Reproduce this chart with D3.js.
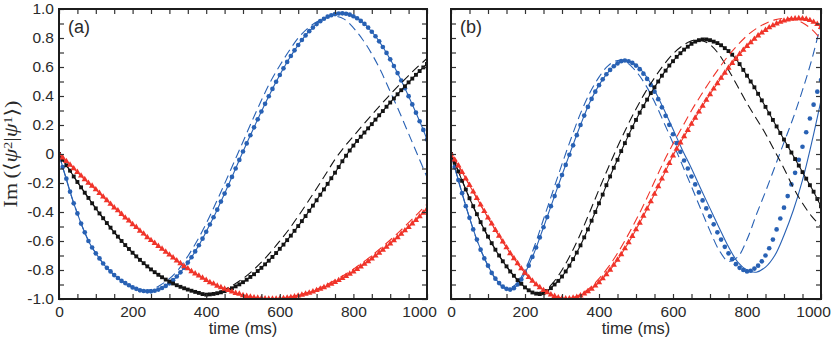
<!DOCTYPE html>
<html>
<head>
<meta charset="utf-8">
<script src="https://cdn.jsdelivr.net/npm/d3@7"></script>
<style>
  body { margin: 0; background: #fff; }
  text { font-family: "Liberation Sans", Arial, sans-serif; fill: #2a2a2a; }
</style>
</head>
<body>
<div id="chart"></div>
<script>

// sample times (ms): markers every 10 ms, lines every 25 ms
var t10 = [0,10,20,30,40,50,60,70,80,90,100,110,120,130,140,150,160,170,180,190,
  200,210,220,230,240,250,260,270,280,290,300,310,320,330,340,350,360,370,380,390,
  400,410,420,430,440,450,460,470,480,490,500,510,520,530,540,550,560,570,580,590,
  600,610,620,630,640,650,660,670,680,690,700,710,720,730,740,750,760,770,780,790,
  800,810,820,830,840,850,860,870,880,890,900,910,920,930,940,950,960,970,980,990,1000];
var t25 = [0,25,50,75,100,125,150,175,200,225,250,275,300,325,350,375,400,425,450,475,
  500,525,550,575,600,625,650,675,700,725,750,775,800,825,850,875,900,925,950,975,1000];

// ---- panel (a) ----
var blueA = [0,-0.09,-0.17,-0.26,-0.34,-0.41,-0.48,-0.54,-0.60,-0.645,
  -0.685,-0.72,-0.755,-0.785,-0.81,-0.835,-0.855,-0.875,-0.89,-0.905,
  -0.92,-0.93,-0.94,-0.945,-0.947,-0.947,-0.943,-0.935,-0.924,-0.91,
  -0.892,-0.87,-0.845,-0.816,-0.784,-0.749,-0.712,-0.672,-0.629,-0.584,
  -0.536,-0.486,-0.436,-0.384,-0.328,-0.273,-0.216,-0.158,-0.10,-0.041,
  0.017,0.073,0.129,0.184,0.239,0.293,0.346,0.398,0.449,0.498,
  0.545,0.591,0.635,0.676,0.715,0.752,0.786,0.818,0.847,0.872,
  0.896,0.916,0.933,0.947,0.957,0.965,0.969,0.97,0.967,0.961,
  0.95,0.936,0.918,0.897,0.872,0.843,0.812,0.777,0.738,0.697,
  0.653,0.607,0.558,0.507,0.454,0.399,0.342,0.285,0.226,0.166,0.10];
var blackA = [0,-0.04,-0.078,-0.115,-0.155,-0.193,-0.23,-0.267,-0.303,-0.34,
  -0.375,-0.41,-0.443,-0.476,-0.508,-0.54,-0.57,-0.60,-0.628,-0.655,
  -0.681,-0.706,-0.73,-0.753,-0.775,-0.796,-0.815,-0.833,-0.85,-0.866,
  -0.88,-0.893,-0.905,-0.916,-0.926,-0.935,-0.943,-0.951,-0.958,-0.966,
  -0.97,-0.968,-0.965,-0.96,-0.954,-0.946,-0.937,-0.926,-0.913,-0.899,
  -0.884,-0.867,-0.848,-0.829,-0.807,-0.785,-0.761,-0.736,-0.71,-0.683,
  -0.654,-0.625,-0.594,-0.563,-0.53,-0.497,-0.463,-0.428,-0.392,-0.356,
  -0.319,-0.281,-0.244,-0.206,-0.167,-0.129,-0.09,-0.05,-0.012,0.024,
  0.058,0.09,0.119,0.148,0.177,0.206,0.237,0.267,0.296,0.326,
  0.355,0.383,0.412,0.44,0.467,0.494,0.52,0.546,0.572,0.597,0.621];
var redA = [0,-0.025,-0.05,-0.075,-0.10,-0.125,-0.15,-0.175,-0.20,-0.22,
  -0.245,-0.27,-0.295,-0.32,-0.345,-0.37,-0.39,-0.415,-0.44,-0.46,
  -0.485,-0.505,-0.53,-0.55,-0.575,-0.595,-0.615,-0.635,-0.655,-0.675,
  -0.695,-0.715,-0.735,-0.755,-0.775,-0.79,-0.81,-0.825,-0.84,-0.855,
  -0.87,-0.885,-0.895,-0.91,-0.92,-0.93,-0.94,-0.95,-0.96,-0.965,
  -0.975,-0.98,-0.985,-0.99,-0.993,-0.996,-0.998,-0.999,-0.999,-0.999,
  -0.998,-0.995,-0.992,-0.988,-0.984,-0.978,-0.972,-0.965,-0.958,-0.949,
  -0.94,-0.93,-0.92,-0.909,-0.897,-0.884,-0.871,-0.857,-0.842,-0.827,
  -0.811,-0.794,-0.777,-0.759,-0.741,-0.722,-0.702,-0.682,-0.662,-0.641,
  -0.619,-0.597,-0.575,-0.552,-0.528,-0.505,-0.48,-0.456,-0.431,-0.406,-0.38];
var blueDashA = [0,-0.22,-0.41,-0.57,-0.685,-0.77,-0.835,-0.88,-0.92,-0.94,
  -0.935,-0.905,-0.86,-0.795,-0.705,-0.60,-0.48,-0.345,-0.205,-0.06,
  0.085,0.23,0.37,0.50,0.61,0.71,0.80,0.865,0.91,0.94,
  0.95,0.93,0.87,0.79,0.69,0.57,0.43,0.29,0.14,-0.01,-0.16];
var blackDashA = [0,-0.097,-0.193,-0.285,-0.375,-0.46,-0.54,-0.614,-0.681,-0.742,
  -0.796,-0.842,-0.88,-0.91,-0.935,-0.955,-0.968,-0.956,-0.934,-0.901,
  -0.859,-0.807,-0.746,-0.677,-0.60,-0.519,-0.429,-0.335,-0.238,-0.138,
  -0.037,0.048,0.123,0.197,0.27,0.341,0.411,0.477,0.541,0.602,0.659];
var redDashA = [0,-0.06,-0.125,-0.19,-0.245,-0.31,-0.37,-0.43,-0.485,-0.54,
  -0.595,-0.645,-0.695,-0.745,-0.79,-0.833,-0.87,-0.903,-0.93,-0.955,
  -0.975,-0.99,-0.996,-0.999,-0.996,-0.987,-0.973,-0.955,-0.932,-0.904,
  -0.871,-0.835,-0.794,-0.749,-0.70,-0.648,-0.593,-0.535,-0.474,-0.411,-0.345];

// ---- panel (b) ----
var blueB = [0,-0.09,-0.18,-0.27,-0.36,-0.44,-0.52,-0.59,-0.66,-0.72,
  -0.77,-0.82,-0.86,-0.89,-0.915,-0.93,-0.935,-0.925,-0.90,-0.865,
  -0.82,-0.77,-0.71,-0.645,-0.575,-0.505,-0.435,-0.36,-0.29,-0.22,
  -0.145,-0.075,-0.005,0.06,0.13,0.20,0.265,0.325,0.38,0.43,
  0.475,0.515,0.55,0.58,0.605,0.625,0.64,0.645,0.639,0.628,
  0.61,0.585,0.554,0.518,0.476,0.43,0.378,0.322,0.263,0.201,
  0.136,0.075,0.015,-0.045,-0.10,-0.155,-0.21,-0.265,-0.32,-0.375,
  -0.43,-0.485,-0.54,-0.59,-0.64,-0.685,-0.725,-0.76,-0.785,-0.80,
  -0.81,-0.805,-0.79,-0.77,-0.74,-0.70,-0.65,-0.59,-0.52,-0.445,
  -0.37,-0.29,-0.21,-0.13,-0.04,0.05,0.15,0.245,0.34,0.43,0.51];
var blackB = [0,-0.06,-0.12,-0.185,-0.245,-0.305,-0.36,-0.415,-0.47,-0.52,
  -0.57,-0.615,-0.66,-0.70,-0.74,-0.775,-0.81,-0.84,-0.87,-0.895,
  -0.92,-0.94,-0.955,-0.963,-0.966,-0.96,-0.946,-0.925,-0.90,-0.875,
  -0.845,-0.81,-0.77,-0.725,-0.68,-0.63,-0.575,-0.52,-0.46,-0.40,
  -0.34,-0.28,-0.215,-0.155,-0.095,-0.04,0.02,0.075,0.13,0.185,
  0.235,0.285,0.33,0.375,0.42,0.46,0.50,0.54,0.575,0.61,
  0.64,0.67,0.695,0.72,0.74,0.76,0.775,0.785,0.79,0.79,
  0.785,0.775,0.765,0.75,0.73,0.71,0.685,0.655,0.62,0.58,
  0.54,0.50,0.46,0.415,0.37,0.325,0.28,0.235,0.19,0.145,
  0.10,0.055,0.01,-0.035,-0.08,-0.125,-0.17,-0.215,-0.26,-0.31,-0.36];
var redB = [0,-0.04,-0.08,-0.125,-0.17,-0.215,-0.26,-0.305,-0.35,-0.395,
  -0.44,-0.48,-0.525,-0.565,-0.605,-0.645,-0.685,-0.72,-0.755,-0.79,
  -0.82,-0.85,-0.875,-0.90,-0.92,-0.94,-0.955,-0.97,-0.98,-0.99,
  -0.995,-0.998,-0.997,-0.993,-0.987,-0.977,-0.964,-0.948,-0.93,-0.909,
  -0.885,-0.859,-0.83,-0.799,-0.765,-0.73,-0.692,-0.652,-0.61,-0.567,
  -0.521,-0.475,-0.427,-0.378,-0.328,-0.276,-0.224,-0.171,-0.117,-0.064,
  -0.011,0.035,0.078,0.121,0.164,0.207,0.249,0.291,0.332,0.372,
  0.411,0.45,0.487,0.524,0.559,0.594,0.627,0.658,0.688,0.717,
  0.744,0.769,0.793,0.816,0.836,0.854,0.872,0.886,0.899,0.91,
  0.919,0.926,0.931,0.934,0.935,0.934,0.93,0.922,0.91,0.895,0.875];
var blueSolidB = [0,-0.225,-0.44,-0.625,-0.77,-0.875,-0.93,-0.915,-0.82,-0.68,
  -0.505,-0.325,-0.145,0.03,0.20,0.355,0.475,0.565,0.625,0.645,
  0.615,0.545,0.44,0.31,0.17,0.03,-0.10,-0.24,-0.375,-0.51,
  -0.64,-0.745,-0.80,-0.815,-0.78,-0.70,-0.56,-0.39,-0.18,0.08,0.37];
var blueDashB = [0,-0.23,-0.44,-0.63,-0.77,-0.88,-0.93,-0.90,-0.80,-0.64,
  -0.45,-0.26,-0.07,0.11,0.28,0.42,0.53,0.61,0.645,0.63,
  0.57,0.48,0.36,0.22,0.075,-0.075,-0.225,-0.38,-0.53,-0.665,
  -0.74,-0.71,-0.59,-0.42,-0.26,-0.09,0.08,0.25,0.44,0.65,0.90];
var blackDashB = [0,-0.15,-0.305,-0.445,-0.57,-0.68,-0.775,-0.855,-0.92,-0.955,
  -0.945,-0.89,-0.80,-0.685,-0.55,-0.40,-0.245,-0.095,0.05,0.185,
  0.31,0.425,0.525,0.615,0.69,0.745,0.78,0.785,0.755,0.685,
  0.58,0.465,0.35,0.245,0.14,0.02,-0.10,-0.23,-0.34,-0.43,-0.50];
var redDashB = [0,-0.10,-0.215,-0.33,-0.44,-0.545,-0.645,-0.74,-0.82,-0.89,
  -0.94,-0.975,-0.995,-0.993,-0.968,-0.924,-0.86,-0.78,-0.685,-0.575,
  -0.456,-0.328,-0.19,-0.053,0.07,0.186,0.30,0.403,0.502,0.594,
  0.679,0.752,0.816,0.865,0.90,0.925,0.935,0.93,0.905,0.86,0.79];

// axis ticks
var xTicks = [0,50,100,150,200,250,300,350,400,450,500,550,600,650,700,750,800,850,900,950,1000];
var xLabels = [0,200,400,600,800,1000];
var yTicks = [-1,-0.9,-0.8,-0.7,-0.6,-0.5,-0.4,-0.3,-0.2,-0.1,0,0.1,0.2,0.3,0.4,0.5,0.6,0.7,0.8,0.9,1];
var yLabels = [-1,-0.8,-0.6,-0.4,-0.2,0,0.2,0.4,0.6,0.8,1];

var blue = "#2861b4", black = "#141414", red = "#f0342a";

// set the dimensions of the graph
var W = 831, H = 339, plotTop = 9, plotBottom = 299;

var svg = d3.select("#chart")
  .append("svg")
    .attr("width", W)
    .attr("height", H);

var panels = [
  { id: "a", x0: 59, x1: 427, label: "(a)", showY: true, series: [
    { color: blue,  symbol: d3.symbolCircle,   size: 17, pts: blueA,  solid: blueA,  solidT: t10, dash: blueDashA },
    { color: black, symbol: d3.symbolSquare,   size: 15, pts: blackA, solid: blackA, solidT: t10, dash: blackDashA },
    { color: red,   symbol: d3.symbolTriangle, size: 17, pts: redA,   solid: redA,   solidT: t10, dash: redDashA }
  ]},
  { id: "b", x0: 451, x1: 821, label: "(b)", showY: false, series: [
    { color: blue,  symbol: d3.symbolCircle,   size: 17, pts: blueB,  solid: blueSolidB, solidT: t25, dash: blueDashB },
    { color: black, symbol: d3.symbolSquare,   size: 15, pts: blackB, solid: blackB,     solidT: t10, dash: blackDashB },
    { color: red,   symbol: d3.symbolTriangle, size: 17, pts: redB,   solid: redB,       solidT: t10, dash: redDashB }
  ]}
];

var yFmt = function(d) {
  if (yLabels.indexOf(d) < 0) return "";
  if (d === 0) return "0";
  return (d < 0 ? "-" : "") + Math.abs(d).toFixed(1);
};

panels.forEach(function(p) {

  var x = d3.scaleLinear().domain([0, 1000]).range([p.x0, p.x1]);
  var y = d3.scaleLinear().domain([-1, 1]).range([plotBottom, plotTop]);

  // clip so nothing leaves the frame
  svg.append("defs").append("clipPath")
      .attr("id", "clip-" + p.id)
    .append("rect")
      .attr("x", p.x0).attr("y", plotTop)
      .attr("width", p.x1 - p.x0).attr("height", plotBottom - plotTop);

  var plot = svg.append("g").attr("clip-path", "url(#clip-" + p.id + ")");

  p.series.forEach(function(s) {
    var solidLine = d3.line()
      .x(function(d, i) { return x(s.solidT[i]); })
      .y(function(d) { return y(d); })
      .curve(d3.curveCatmullRom);
    var dashLine = d3.line()
      .x(function(d, i) { return x(t25[i]); })
      .y(function(d) { return y(d); })
      .curve(d3.curveCatmullRom);

    plot.append("path")
      .attr("d", solidLine(s.solid))
      .attr("fill", "none")
      .attr("stroke", s.color)
      .attr("stroke-width", 1.1);

    plot.append("path")
      .attr("d", dashLine(s.dash))
      .attr("fill", "none")
      .attr("stroke", s.color)
      .attr("stroke-width", 1.1)
      .attr("stroke-dasharray", "9,5");

    plot.selectAll(null)
      .data(s.pts)
      .enter()
      .append("path")
        .attr("d", d3.symbol().type(s.symbol).size(s.size))
        .attr("transform", function(d, i) { return "translate(" + x(t10[i]) + "," + y(d) + ")"; })
        .attr("fill", s.color);
  });

  // axes: inward ticks on all four sides
  var axes = [
    { gen: d3.axisBottom(x).tickValues(xTicks).tickFormat(function(d) { return xLabels.indexOf(d) >= 0 ? d : ""; }), tr: "translate(0," + plotBottom + ")" },
    { gen: d3.axisTop(x).tickValues(xTicks).tickFormat(""), tr: "translate(0," + plotTop + ")" },
    { gen: d3.axisLeft(y).tickValues(yTicks).tickFormat(p.showY ? yFmt : ""), tr: "translate(" + p.x0 + ",0)" },
    { gen: d3.axisRight(y).tickValues(yTicks).tickFormat(""), tr: "translate(" + p.x1 + ",0)" }
  ];
  axes.forEach(function(a, k) {
    var g = svg.append("g")
      .attr("transform", a.tr)
      .call(a.gen.tickSize(-5).tickPadding(k === 0 ? 7 : 5));
    g.select(".domain").remove();
    g.selectAll("line").attr("stroke", "#333").attr("stroke-width", 1.2);
    g.selectAll("text")
      .style("font-family", "'Liberation Sans', Arial, sans-serif")
      .style("font-size", "15.5px")
      .attr("fill", "#2a2a2a");
    // the "1000" label sits a little left of its tick, as in the original
    if (k === 0) g.selectAll(".tick text").filter(function(d) { return d === 1000; }).attr("x", -8);
  });

  // frame
  svg.append("rect")
    .attr("x", p.x0).attr("y", plotTop)
    .attr("width", p.x1 - p.x0).attr("height", plotBottom - plotTop)
    .attr("fill", "none")
    .attr("stroke", "#1c1c1c")
    .attr("stroke-width", 2);

  // panel label
  svg.append("text")
    .attr("x", p.x0 + 9).attr("y", 33)
    .style("font-size", "18px")
    .text(p.label);

  // x-axis label
  svg.append("text")
    .attr("x", (p.x0 + p.x1) / 2).attr("y", 334)
    .style("text-anchor", "middle")
    .style("font-size", "16.5px")
    .text("time (ms)");
});

// y-axis label: Im(<psi^2|psi^1>)
var yl = svg.append("text")
  .style("text-anchor", "middle")
  .style("font-family", "'Liberation Serif', 'DejaVu Serif', serif")
  .style("font-size", "19px");
yl.append("tspan").text("Im\u2009(");
yl.append("tspan").text("\u27E8");
yl.append("tspan").style("font-style", "italic").text("\u03C8");
yl.append("tspan").attr("dy", "-0.45em").style("font-size", "12px").text("2");
yl.append("tspan").attr("dy", "0.3em").text("|");
yl.append("tspan").style("font-style", "italic").text("\u03C8");
yl.append("tspan").attr("dy", "-0.45em").style("font-size", "12px").text("1");
yl.append("tspan").attr("dy", "0.3em").text("\u27E9)");

// squeeze the label along its length to about 107 px, as in the original
var ylBox = yl.node().getBBox();
var ylScale = 107 / ylBox.width;
var ylMid = ylBox.x + ylBox.width / 2;
yl.attr("transform", "translate(17,154) rotate(-90) scale(" + ylScale + ",1) translate(" + (-ylMid) + ",0)");

</script>
</body>
</html>
